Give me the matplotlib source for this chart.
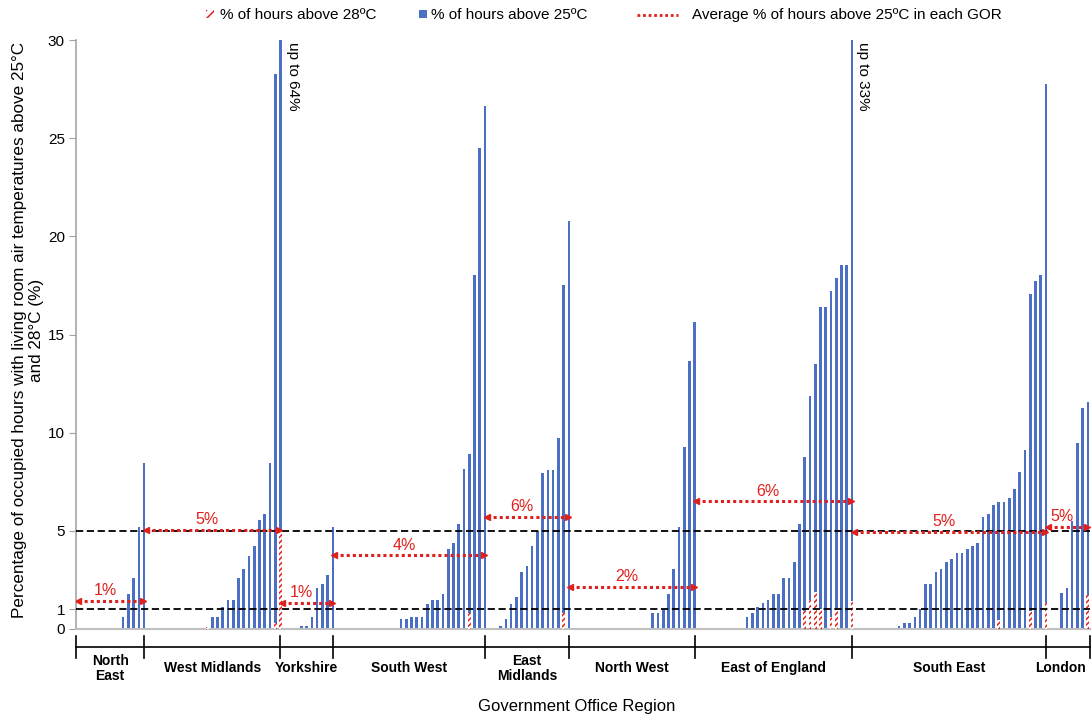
import numpy as np
import matplotlib
matplotlib.use("Agg")
import matplotlib.pyplot as plt
from matplotlib.patches import Rectangle
from matplotlib.lines import Line2D

plt.rcParams['font.family'] = ['Liberation Sans', 'DejaVu Sans']
plt.rcParams['hatch.linewidth'] = 1.1

# regions (Government Office Regions), one bar per dwelling, sorted ascending
regions = ["North\nEast", "West Midlands", "Yorkshire", "South West", "East\nMidlands",
           "North West", "East of England", "South East", "London"]

ne_25 = [0] * 8 + [0.63, 1.78, 2.58, 5.18, 8.44]
ne_28 = [0] * 13

wm_25 = [0] * 11 + [0.1, 0.63, 0.63, 1.14, 1.46, 1.46, 2.58, 3.07, 3.74, 4.21, 5.54, 5.84,
                    8.44, 28.27, 64.0]
wm_28 = [0] * 11 + [0.1] + [0] * 12 + [0.3, 5.0]

yo_25 = [0] * 3 + [0.15, 0.15, 0.63, 2.1, 2.29, 2.77, 5.18]
yo_28 = [0] * 10

sw_25 = [0] * 12 + [0.49, 0.49, 0.63, 0.63, 0.63, 1.29, 1.46, 1.46, 1.77, 4.06, 4.38, 5.35,
                    8.13, 8.93, 18.03, 24.5, 26.64]
sw_28 = [0] * 25 + [0.8] + [0] * 3

em_25 = [0] * 2 + [0.15, 0.49, 1.29, 1.61, 2.92, 3.23, 4.23, 4.99, 7.96, 8.12, 8.12, 9.75,
                   17.5, 20.8]
em_28 = [0] * 14 + [0.8, 0]

nw_25 = [0] * 15 + [0.8, 0.8, 1.0, 1.78, 3.07, 5.18, 9.25, 13.65, 15.62]
nw_28 = [0] * 24

ee_25 = [0] * 9 + [0.63, 0.8, 1.14, 1.31, 1.48, 1.78, 1.78, 2.58, 2.58, 3.4, 5.35, 8.78,
                   11.87, 13.48, 16.42, 16.42, 17.22, 17.86, 18.54, 18.54, 33.0]
ee_28 = [0] * 20 + [0.9, 1.5, 1.9, 1.0, 0, 0.6, 1.0, 0, 0, 1.45]

se_25 = [0] * 8 + [0.15, 0.32, 0.32, 0.63, 1.0, 2.29, 2.29, 2.92, 3.06, 3.41, 3.57, 3.89,
                   3.89, 4.06, 4.23, 4.4, 5.69, 5.86, 6.32, 6.49, 6.49, 6.66, 7.15, 7.98,
                   9.12, 17.08, 17.73, 18.05, 27.76]
se_28 = [0] * 27 + [0.45] + [0] * 5 + [0.93, 0, 0, 1.34]

lo_25 = [0] * 2 + [1.82, 2.1, 5.52, 9.46, 11.24, 11.55]
lo_28 = [0] * 7 + [1.73]

above25 = [ne_25, wm_25, yo_25, sw_25, em_25, nw_25, ee_25, se_25, lo_25]
above28 = [ne_28, wm_28, yo_28, sw_28, em_28, nw_28, ee_28, se_28, lo_28]
avg_labels = ["1%", "5%", "1%", "4%", "6%", "2%", "6%", "5%", "5%"]

blue = '#4a6fc4'
red = '#e0201c'

fig = plt.figure(figsize=(10.92, 7.16), dpi=100)
ax = fig.add_axes([76 / 1092, 1 - 629 / 716, (1090 - 76) / 1092, (629 - 40) / 716])

v25 = np.concatenate(above25)
v28 = np.concatenate(above28)
pos = np.arange(1, len(v25) + 1)
ax.bar(pos, v25, width=0.5, color=blue, linewidth=0, zorder=2)
ax.bar(pos, v28, width=0.55, facecolor='white', edgecolor=red, hatch='//////',
       linewidth=0, zorder=3)

ax.axhline(1, color='black', ls=(0, (4, 2)), lw=1.3, zorder=4)
ax.axhline(5, color='black', ls=(0, (4, 2)), lw=1.3, zorder=4)

sizes = [len(v) for v in above25]
bounds = np.concatenate([[0], np.cumsum(sizes)])
xmax = bounds[-1] + 0.4
ax.set_xlim(0, xmax)
ax.set_ylim(0, 30)

# average arrows per region
for i, vals in enumerate(above25):
    m = np.mean(vals)
    x0 = bounds[i] + 0.3
    x1 = min(bounds[i + 1] - 0.2, xmax - 0.3)
    ax.plot([x0, x1], [m, m], color=red, ls=(0, (1, 1)), lw=2.2, zorder=5)
    ax.plot([x0], [m], marker='<', color=red, ms=5, zorder=5)
    ax.plot([x1], [m], marker='>', color=red, ms=5, zorder=5)
    ax.annotate(avg_labels[i], xy=((x0 + x1) / 2 - 1, m), xytext=(0, 2),
                textcoords='offset points', ha='center', va='bottom',
                color=red, fontsize=11.5, zorder=6)

# off-scale notes
ax.text(bounds[2] + 2.3, 29.9, "up to 64%", rotation=-90, ha='center', va='top', fontsize=11)
ax.text(bounds[7] + 2.1, 29.9, "up to 33%", rotation=-90, ha='center', va='top', fontsize=11)

ax.set_xticks([])
ax.set_yticks([0, 1, 5, 10, 15, 20, 25, 30])
ax.tick_params(axis='y', length=5, color='#a0a0a0', labelsize=11, pad=3)
for s in ['top', 'right']:
    ax.spines[s].set_visible(False)
ax.spines['left'].set_color('#a6a6a6')
ax.spines['bottom'].set_color('#bfbfbf')
ax.spines['left'].set_linewidth(1.2)
ax.spines['bottom'].set_linewidth(1.5)

# region category axis under the plot
tr = ax.get_xaxis_transform()
ax.plot([0, xmax], [-0.030, -0.030], color='black', lw=1.2, transform=tr, clip_on=False)
for b in list(bounds[:-1]) + [xmax]:
    ax.plot([b, b], [-0.012, -0.049], color='black', lw=1.2, transform=tr, clip_on=False)
for i, name in enumerate(regions):
    xc = (bounds[i] + bounds[i + 1]) / 2
    if i == len(regions) - 1:
        xc -= 1.2
    ax.text(xc, -0.067, name, transform=tr, ha='center',
            va='center', fontsize=10, fontweight='bold', linespacing=1.15)

fig.text(577 / 1092, 1 - 706 / 716, "Government Office Region", ha='center', va='center',
         fontsize=12)
fig.text(28 / 1092, 1 - 330 / 716,
         "Percentage of occupied hours with living room air temperatures above 25°C\nand 28°C (%)",
         rotation=90, ha='center', va='center', fontsize=12.3, linespacing=1.2)

# legend along the top
fig.add_artist(Rectangle((206 / 1092, 1 - 18 / 716), 8 / 1092, 8 / 716,
                         transform=fig.transFigure, facecolor='white', edgecolor=red,
                         hatch='////', linewidth=0))
fig.text(220 / 1092, 1 - 15 / 716, "% of hours above 28ºC", ha='left', va='center', fontsize=11)
fig.add_artist(Rectangle((419 / 1092, 1 - 18 / 716), 8 / 1092, 8 / 716,
                         transform=fig.transFigure, facecolor=blue, linewidth=0))
fig.text(431 / 1092, 1 - 15 / 716, "% of hours above 25ºC", ha='left', va='center', fontsize=11)
fig.add_artist(Line2D([637 / 1092, 678 / 1092], [1 - 15 / 716, 1 - 15 / 716],
                      transform=fig.transFigure, color=red, ls=(0, (1, 1)), lw=2))
fig.text(692 / 1092, 1 - 15 / 716, "Average % of hours above 25ºC in each GOR", ha='left',
         va='center', fontsize=11)

fig.savefig("out.png", dpi=100)
